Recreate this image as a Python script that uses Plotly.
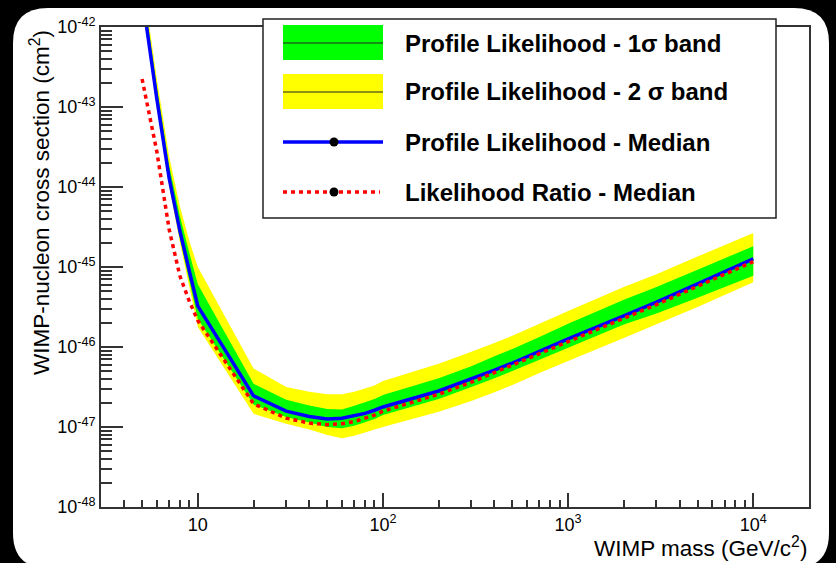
import plotly.graph_objects as go

# ---------------- data ----------------
mass = [5, 6, 7, 8, 9, 10, 20, 30, 40, 50, 60, 70, 80, 90, 100,
        200, 300, 400, 500, 700, 1000, 2000, 3000, 5000, 10000]

pl_median = [2.5e-42, 1.29e-43, 1.29e-44, 2.82e-45, 8.9e-46, 3.24e-46, 2.45e-47,
             1.58e-47, 1.35e-47, 1.26e-47, 1.29e-47, 1.38e-47, 1.48e-47, 1.62e-47,
             1.78e-47, 2.82e-47, 3.98e-47, 5.13e-47, 6.31e-47, 8.91e-47, 1.26e-46,
             2.45e-46, 3.63e-46, 6.17e-46, 1.26e-45]

lr_median = [2.24e-43, 2.82e-44, 2.95e-45, 7.76e-46, 3.72e-46, 2.14e-46, 1.95e-47,
             1.29e-47, 1.12e-47, 1.07e-47, 1.10e-47, 1.17e-47, 1.29e-47, 1.41e-47,
             1.58e-47, 2.57e-47, 3.63e-47, 4.79e-47, 5.89e-47, 8.32e-47, 1.17e-46,
             2.29e-46, 3.39e-46, 5.75e-46, 1.17e-45]

band2_hi = [4.47e-42, 2.29e-43, 2.43e-44, 5.75e-45, 2.11e-45, 1.0e-45, 5.37e-47,
            3.16e-47, 2.75e-47, 2.57e-47, 2.57e-47, 2.75e-47, 3.02e-47, 3.31e-47,
            3.76e-47, 6.17e-47, 8.71e-47, 1.12e-46, 1.38e-46, 1.95e-46, 2.82e-46,
            5.62e-46, 8.13e-46, 1.35e-45, 2.66e-45]

band1_hi = [3.55e-42, 1.82e-43, 1.86e-44, 4.37e-45, 1.50e-45, 6.10e-46, 3.47e-47,
            2.19e-47, 1.86e-47, 1.68e-47, 1.66e-47, 1.84e-47, 2.04e-47, 2.24e-47,
            2.51e-47, 4.07e-47, 5.75e-47, 7.67e-47, 9.44e-47, 1.33e-46, 1.95e-46,
            3.89e-46, 5.62e-46, 9.23e-46, 1.82e-45]

band1_lo = [2.24e-42, 1.15e-43, 1.12e-44, 2.29e-45, 6.68e-46, 2.24e-46, 1.91e-47,
            1.33e-47, 1.14e-47, 1.0e-47, 9.66e-48, 1.04e-47, 1.15e-47, 1.26e-47,
            1.41e-47, 2.24e-47, 3.16e-47, 4.07e-47, 5.01e-47, 6.92e-47, 9.77e-47,
            1.91e-46, 2.63e-46, 4.12e-46, 7.76e-46]

band2_lo = [2.04e-42, 1.05e-43, 1.02e-44, 2.04e-45, 5.62e-46, 1.78e-46, 1.46e-47,
            1.10e-47, 9.33e-48, 7.94e-48, 7.24e-48, 7.76e-48, 8.51e-48, 9.33e-48,
            1.0e-47, 1.55e-47, 2.11e-47, 2.72e-47, 3.35e-47, 4.73e-47, 6.68e-47,
            1.30e-46, 1.93e-46, 3.16e-46, 6.46e-46]

x_tickvals = [10, 100, 1000, 10000]
x_ticktext = ["10", "10<sup>2</sup>", "10<sup>3</sup>", "10<sup>4</sup>"]
y_tickvals = [1e-48, 1e-47, 1e-46, 1e-45, 1e-44, 1e-43, 1e-42]
y_ticktext = ["10<sup>-48</sup>", "10<sup>-47</sup>", "10<sup>-46</sup>", "10<sup>-45</sup>",
              "10<sup>-44</sup>", "10<sup>-43</sup>", "10<sup>-42</sup>"]

legend_labels = ["Profile Likelihood - 1σ band",
                 "Profile Likelihood - 2 σ band",
                 "Profile Likelihood - Median",
                 "Likelihood Ratio - Median"]

x_title = "WIMP mass (GeV/c<sup>2</sup>)"
y_title = "WIMP-nucleon cross section (cm<sup>2</sup>)"

# ---------------- layout geometry (pixels) ----------------
W, H = 836, 563
L, R, T, B = 101, 809, 27, 507
FONT = "Liberation Sans, Arial, Helvetica, sans-serif"


def px(X):
    return (X - L) / (R - L)


def py(Y):
    return (B - Y) / (B - T)


fig = go.Figure()

# 2 sigma band (yellow)
fig.add_trace(go.Scatter(x=mass + mass[::-1], y=band2_hi + band2_lo[::-1],
                         fill="toself", fillcolor="#ffff00", mode="none",
                         hoverinfo="skip"))
# 1 sigma band (green)
fig.add_trace(go.Scatter(x=mass + mass[::-1], y=band1_hi + band1_lo[::-1],
                         fill="toself", fillcolor="#00ff00", mode="none",
                         hoverinfo="skip"))
# Profile likelihood median (blue)
fig.add_trace(go.Scatter(x=mass, y=pl_median, mode="lines",
                         line=dict(color="#0000ff", width=3.5)))
# Likelihood ratio median (red dotted)
fig.add_trace(go.Scatter(x=mass, y=lr_median, mode="lines",
                         line=dict(color="#ff0000", width=3.5, dash="4px,4px")))

axis_common = dict(
    type="log", showgrid=False, zeroline=False, showline=True,
    linecolor="#333333", linewidth=2, mirror=True, ticks="inside",
    tickcolor="#333333", tickwidth=1.5, tickmode="array",
    tickfont=dict(family=FONT, size=18, color="black"),
)

fig.update_xaxes(**axis_common, range=[0.4771, 4.301], ticklen=14,
                 tickvals=x_tickvals, ticktext=x_ticktext,
                 minor=dict(ticks="inside", ticklen=7, tickwidth=1.5,
                            tickcolor="#333333", dtick="D1", showgrid=False))
fig.update_yaxes(**axis_common, range=[-48, -42], ticklen=22,
                 tickvals=y_tickvals, ticktext=y_ticktext,
                 minor=dict(ticks="inside", ticklen=11, tickwidth=1.5,
                            tickcolor="#333333", dtick="D1", showgrid=False))

# ---------------- background panel ----------------
X0, Y0, X1, Y1, RR = 13, 8, 829, 568, 35
pts = lambda X, Y: f"{px(X):.5f},{py(Y):.5f}"
panel = (f"M {pts(X0+RR, Y0)} L {pts(X1-RR, Y0)} Q {pts(X1, Y0)} {pts(X1, Y0+RR)} "
         f"L {pts(X1, Y1-RR)} Q {pts(X1, Y1)} {pts(X1-RR, Y1)} "
         f"L {pts(X0+RR, Y1)} Q {pts(X0, Y1)} {pts(X0, Y1-RR)} "
         f"L {pts(X0, Y0+RR)} Q {pts(X0, Y0)} {pts(X0+RR, Y0)} Z")

shapes = [dict(type="path", path=panel, xref="paper", yref="paper",
               fillcolor="white", line=dict(width=0), layer="below")]

# ---------------- legend (drawn manually) ----------------
shapes.append(dict(type="rect", xref="paper", yref="paper",
                   x0=px(263), x1=px(776), y0=py(218), y1=py(19),
                   fillcolor="white", line=dict(color="#222222", width=1.5)))
sx0, sx1 = 283, 383
rows = [43, 92, 142, 192]
shapes.append(dict(type="rect", xref="paper", yref="paper", x0=px(sx0), x1=px(sx1),
                   y0=py(60), y1=py(25), fillcolor="#00ff00", line=dict(width=0)))
shapes.append(dict(type="rect", xref="paper", yref="paper", x0=px(sx0), x1=px(sx1),
                   y0=py(109), y1=py(74), fillcolor="#ffff00", line=dict(width=0)))
for yy in rows[:2]:
    shapes.append(dict(type="line", xref="paper", yref="paper", x0=px(sx0), x1=px(sx1),
                       y0=py(yy), y1=py(yy), line=dict(color="#222222", width=1.2)))
shapes.append(dict(type="line", xref="paper", yref="paper", x0=px(sx0), x1=px(sx1),
                   y0=py(rows[2]), y1=py(rows[2]), line=dict(color="#0000ff", width=3.5)))
shapes.append(dict(type="line", xref="paper", yref="paper", x0=px(sx0), x1=px(sx1 - 3),
                   y0=py(rows[3]), y1=py(rows[3]),
                   line=dict(color="#ff0000", width=3.5, dash="4px,4px")))
for yy in rows[2:]:
    shapes.append(dict(type="circle", xref="paper", yref="paper",
                       x0=px(329.5), x1=px(338.5), y0=py(yy + 4.5), y1=py(yy - 4.5),
                       fillcolor="black", line=dict(color="black", width=0)))

annotations = []
for lab, yy in zip(legend_labels, rows):
    annotations.append(dict(text=f"<b>{lab}</b>", xref="paper", yref="paper",
                            x=px(403), y=py(yy), xanchor="left", yanchor="middle",
                            showarrow=False,
                            font=dict(family=FONT, size=24, color="black")))

# axis titles
annotations.append(dict(text=x_title, xref="paper", yref="paper",
                        x=1.0, y=py(547), xanchor="right", yanchor="middle",
                        showarrow=False, font=dict(family=FONT, size=22.5, color="black")))
annotations.append(dict(text=y_title, xref="paper", yref="paper",
                        x=px(40), y=py(203), xanchor="center", yanchor="middle",
                        textangle=-90, showarrow=False,
                        font=dict(family=FONT, size=22.5, color="black")))

fig.update_layout(
    width=W, height=H,
    margin=dict(l=L, r=W - R, t=T, b=H - B, pad=0),
    paper_bgcolor="black", plot_bgcolor="white",
    showlegend=False, shapes=shapes, annotations=annotations,
    font=dict(family=FONT, color="black"),
)

fig.write_html("out.html")
